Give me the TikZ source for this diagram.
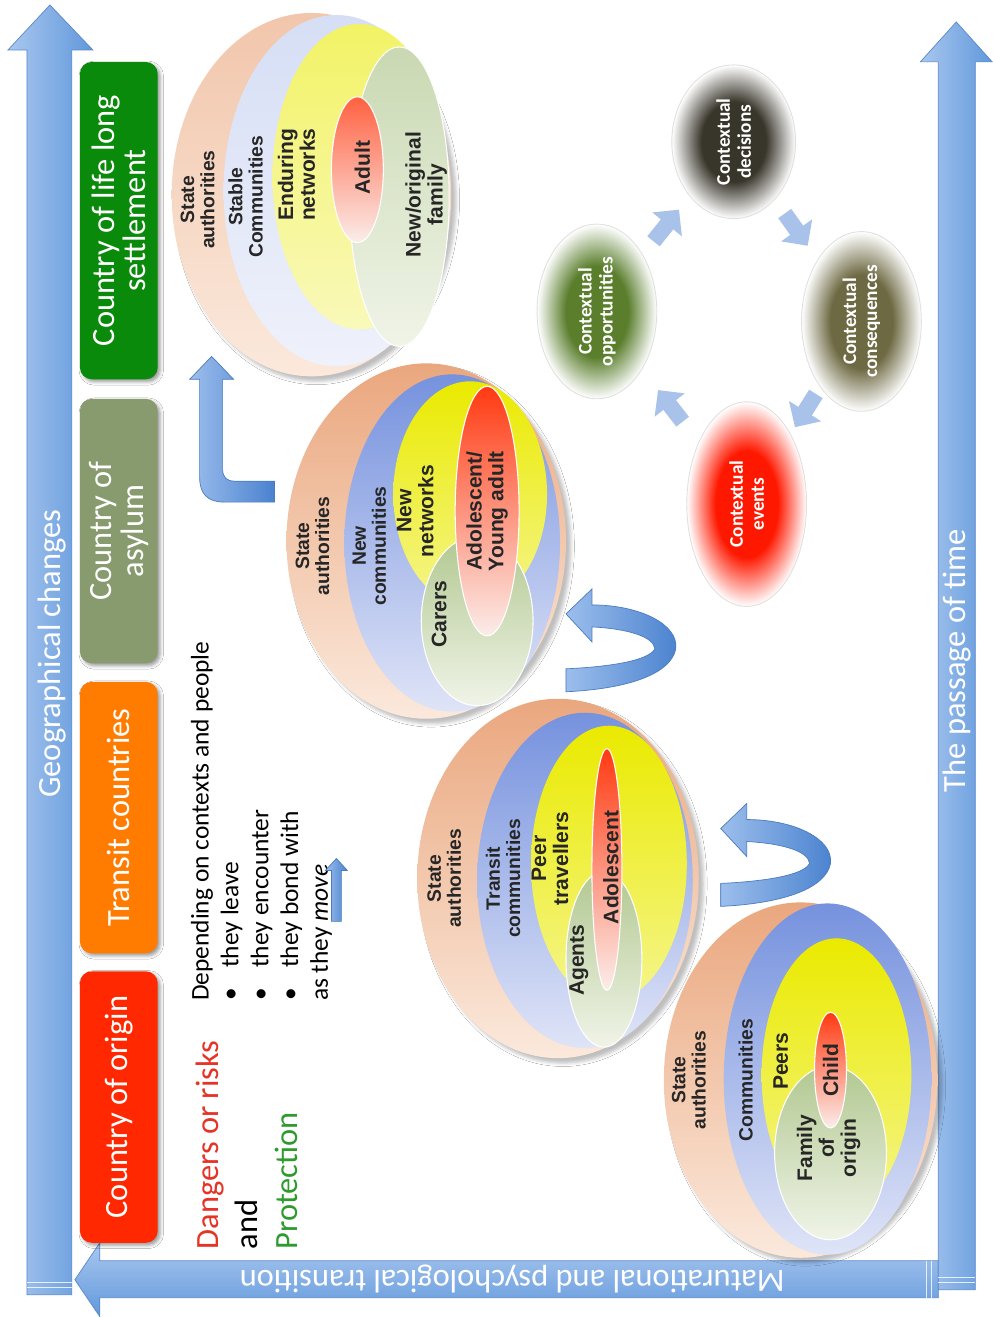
\documentclass[tikz,border=0pt]{standalone}
\usepackage{fontspec}
\setmainfont{Carlito}
\newfontfamily\lsans{Liberation Sans}
\usetikzlibrary{arrows.meta,shapes.geometric,shadows.blur}

\definecolor{arrL}{HTML}{A9C7EF}
\definecolor{arrD}{HTML}{6198DB}
\definecolor{arrB}{HTML}{5A88CC}
\definecolor{uL}{HTML}{9CBEEC}
\definecolor{uD}{HTML}{4A82CF}
\definecolor{uB}{HTML}{4A7CC0}
\definecolor{cycArr}{HTML}{A9C2EA}
\definecolor{cSettle}{HTML}{0A8A0A}
\definecolor{cAsylum}{HTML}{879B6E}
\definecolor{cTransit}{HTML}{FF7C00}
\definecolor{cOrigin}{HTML}{FF2800}
\definecolor{stD}{HTML}{EAA77E}
\definecolor{stL}{HTML}{FBE9DC}
\definecolor{cmD}{HTML}{7692DE}
\definecolor{cmL}{HTML}{DFE4F7}
\definecolor{nwD}{HTML}{EAEA00}
\definecolor{nwL}{HTML}{F5F58C}
\definecolor{fmD}{HTML}{B2C891}
\definecolor{fmL}{HTML}{F0F4E8}
\definecolor{meD}{HTML}{FF3A12}
\definecolor{meL}{HTML}{FBEDEA}
\definecolor{decD}{HTML}{38352A}
\definecolor{oppD}{HTML}{5A7E2C}
\definecolor{conD}{HTML}{6D6942}
\definecolor{evtD}{HTML}{FF1800}
\definecolor{danger}{HTML}{E53325}
\definecolor{protect}{HTML}{2F9B2F}

\pgfdeclareradialshading{fzdec}{\pgfpoint{0bp}{0bp}}{color(0bp)=(decD); color(13bp)=(decD); color(25bp)=(white); color(50bp)=(white)}
\pgfdeclareradialshading{fzopp}{\pgfpoint{0bp}{0bp}}{color(0bp)=(oppD); color(13bp)=(oppD); color(25bp)=(white); color(50bp)=(white)}
\pgfdeclareradialshading{fzcon}{\pgfpoint{0bp}{0bp}}{color(0bp)=(conD); color(13bp)=(conD); color(25bp)=(white); color(50bp)=(white)}
\pgfdeclareradialshading{fzevt}{\pgfpoint{0bp}{0bp}}{color(0bp)=(evtD); color(13bp)=(evtD); color(25bp)=(white); color(50bp)=(white)}

\newcommand\boxfont{\fontsize{18.5}{18}\selectfont}
\newcommand\arrfont{\fontsize{18.5}{20}\selectfont}
\newcommand\labfnt{\lsans\bfseries\fontsize{11}{11.5}\selectfont}
\newcommand\biglab{\lsans\bfseries\fontsize{12}{12.5}\selectfont}
\newcommand\ctxfont{\bfseries\fontsize{11}{12}\selectfont}

\begin{document}
\begin{tikzpicture}[x=0.02cm, y=-0.02cm,
  bigarr/.style={left color=arrL, right color=arrD, draw=arrB, line width=0.4pt},
  arrtext/.style={text=white, font=\arrfont, inner sep=0pt},
  cbox/.style={rectangle, rounded corners=0.24cm, rotate=90, minimum height=1.56cm, text=white, font=\boxfont, align=center, inner sep=2pt,
    blur shadow={shadow blur steps=4, shadow xshift=0.5mm, shadow yshift=-0.5mm}},
  stlay/.style={top color=stD!#1!white, bottom color=stL}, stlay/.default=100,
  cmlay/.style={top color=cmD!#1!white, bottom color=cmL}, cmlay/.default=100,
  nwlay/.style={top color=nwD!#1!white, bottom color=nwL!#1!white}, nwlay/.default=100,
  fmlay/.style={top color=fmD!#1!white, bottom color=fmL, draw=white, line width=0.6pt}, fmlay/.default=100,
  melay/.style={top color=meD!#1!white, bottom color=meL, draw=white, line width=0.6pt}, melay/.default=100,
  rim/.style={blur shadow={shadow xshift=1mm, shadow yshift=-1mm, shadow opacity=25}},
  lab/.style={rotate=90, align=center, font=\labfnt, text=black!85, inner sep=0pt},
  blab/.style={lab, font=\biglab},
  ctx/.style={ellipse, rotate=90, shade, text=white, font=\ctxfont, align=center, inner sep=0pt, draw=black!12, line width=0.5pt},
  cyc/.style={draw=cycArr, line width=0.32cm, -{Triangle[length=0.38cm, width=0.74cm]}},
  uarr/.style={left color=uL, right color=uD, draw=uB, line width=0.4pt},
  uturn/.pic={
    \shade[uarr] (0,78) .. controls (63,75) and (105,60) .. (110,35)
      .. controls (113,10) and (73,-9) .. (26,-9) -- (26,-25) -- (0,0)
      -- (26,28) -- (26,13) .. controls (63,15) and (88,23) .. (89,35)
      .. controls (83,47) and (43,53) .. (0,55) -- cycle;
  }
]
  \fill[white] (0,0) rectangle (984,1317);

  % big arrows
  \shade[bigarr] (27,1297) -- (27,50) -- (8,50) -- (50,5) -- (93,50) -- (72,50) -- (72,1297) -- cycle;
  \shade[bigarr, top color=arrL, bottom color=arrD] (940,1263) -- (100,1263) -- (100,1245) -- (75,1282) -- (100,1319) -- (100,1300) -- (940,1300) -- cycle;
  \shade[bigarr] (940,1292) -- (940,62) -- (922,62) -- (958,22) -- (994,62) -- (977,62) -- (977,1292) -- cycle;
  \draw[white, line width=0.6pt, opacity=0.8] (27,1285) -- (72,1285) (27,1290) -- (72,1290)
    (940,1280) -- (977,1280) (940,1285) -- (977,1285) (928,1263) -- (928,1300) (933,1263) -- (933,1300);
  \node[arrtext, rotate=90] (geo) at (52,655) {Geographical changes};
  \node[arrtext, rotate=90] (time) at (959,662) {The passage of time};
  \node[arrtext, rotate=180] (matur) at (513,1281) {Maturational and psychological transition};

  % countries
  \node[cbox, fill=cSettle, minimum width=6.36cm] (settlebox) at (119,221) {Country of life long\\settlement};
  \node[cbox, fill=cAsylum, minimum width=5.3cm] (asylumbox) at (119,532) {Country of\\asylum};
  \node[cbox, fill=cTransit, minimum width=5.44cm] (transitbox) at (119,819) {Transit countries};
  \node[cbox, fill=cOrigin, minimum width=5.44cm] (originbox) at (119,1109) {Country of origin};

  % side texts
  \node[anchor=north west, rotate=90, align=left, inner sep=0pt, font=\fontsize{18.5}{22.5}\selectfont] (risks) at (196,1252)
    {\textcolor{danger}{Dangers or risks}\\and\\\textcolor{protect}{Protection}};
  \node[anchor=north west, rotate=90, align=left, inner sep=0pt, font=\fontsize{14.5}{17}\selectfont] (depend) at (191,1003)
    {Depending on contexts and people\\\makebox[19pt][l]{\textbullet}they leave\\\makebox[19pt][l]{\textbullet}they encounter\\\makebox[19pt][l]{\textbullet}they bond with\\as they \emph{move}};
  \shade[uarr] (332,923) -- (332,872) -- (326,872) -- (337,860) -- (348,872) -- (342,872) -- (342,923) -- cycle;

  % child
  \shade[stlay, rim] (802,1082) ellipse [x radius=137, y radius=178];
  \shade[cmlay] (829,1081) ellipse [x radius=104, y radius=176];
  \shade[nwlay] (838,1077) ellipse [x radius=75, y radius=137];
  \shade[fmlay] (832,1155) ellipse [x radius=56, y radius=87];
  \shade[melay] (832,1072) ellipse [x radius=16, y radius=58];
  \node[lab] (stateA) at (690,1082) {State\\authorities};
  \node[lab] (commA) at (747,1082) {Communities};
  \node[blab] (peers) at (782,1063) {Peers};
  \node[blab] (child) at (832,1072) {Child};
  \node[blab] (family) at (830,1150) {Family\\of\\origin};

  % adolescent
  \shade[stlay, rim] (559,880) ellipse [x radius=141, y radius=180];
  \shade[cmlay] (586,882) ellipse [x radius=108, y radius=168];
  \shade[nwlay] (610,865) ellipse [x radius=78, y radius=138];
  \shade[fmlay] (605,961) ellipse [x radius=38, y radius=88];
  \shade[melay] (608,871) ellipse [x radius=15, y radius=121];
  \node[lab] (stateB) at (445,880) {State\\authorities};
  \node[lab] (commB) at (504,880) {Transit\\communities};
  \node[blab] (peerB) at (551,860) {Peer\\travellers};
  \node[blab] (agents) at (580,962) {Agents};
  \node[blab] (adol) at (612,869) {Adolescent};

  % young adult
  \shade[stlay, rim] (427,542) ellipse [x radius=140, y radius=178];
  \shade[cmlay] (453,544) ellipse [x radius=108, y radius=169];
  \shade[nwlay] (471,495) ellipse [x radius=77, y radius=113];
  \shade[fmlay] (478,622) ellipse [x radius=56, y radius=85];
  \shade[melay] (488,512) ellipse [x radius=32, y radius=125];
  \node[lab] (stateC) at (313,547) {State\\authorities};
  \node[lab] (commC) at (370,547) {New\\communities};
  \node[blab] (netC) at (416,512) {New\\networks};
  \node[blab] (carers) at (440,615) {Carers};
  \node[blab] (young) at (488,512) {Adolescent/\\Young adult};

  % adult
  \shade[stlay=65, rim] (312,195) ellipse [x radius=140, y radius=182];
  \shade[cmlay=30, bottom color=cmL!50!white] (337,191) ellipse [x radius=113, y radius=176];
  \shade[nwlay=60] (360,177) ellipse [x radius=87, y radius=153];
  \shade[fmlay=70] (400,197) ellipse [x radius=50, y radius=150];
  \shade[melay=80] (358,170) ellipse [x radius=26, y radius=73];
  \node[lab] (stateD) at (198,200) {State\\authorities};
  \node[lab] (commD) at (246,197) {Stable\\Communities};
  \node[blab] (netD) at (297,175) {Enduring\\networks};
  \node[blab] (adult) at (363,168) {Adult};
  \node[blab] (newfam) at (427,195) {New/original\\family};

  % moves
  \pic at (722,830) {uturn};
  \pic at (567,615) {uturn};
  \shade[uarr] (275,503) -- (225,503) .. controls (208,503) and (200,495) .. (200,478) -- (200,380) -- (190,380)
    -- (212,357) -- (234,380) -- (223,380) -- (223,470) .. controls (223,478) and (227,482) .. (235,482) -- (275,482) -- cycle;

  % context cycle
  \node[ctx, shading=fzdec, minimum width=3.08cm, minimum height=2.48cm] (decide) at (735,142) {Contextual\\decisions};
  \node[ctx, shading=fzopp, minimum width=3.5cm, minimum height=2.4cm] (opport) at (598,312) {Contextual\\opportunities};
  \node[ctx, shading=fzcon, minimum width=3.6cm, minimum height=2.4cm] (conseq) at (863,322) {Contextual\\consequences};
  \node[ctx, shading=fzevt, minimum width=4.1cm, minimum height=2.4cm] (events) at (748,505) {Contextual\\events};

  \draw[cyc, shorten <=0.52cm, shorten >=0.52cm] (events) -- (opport);
  \draw[cyc, shorten <=0.34cm, shorten >=0.34cm] (opport) -- (decide);
  \draw[cyc, shorten <=0.34cm, shorten >=0.34cm] (decide) -- (conseq);
  \draw[cyc, shorten <=0.16cm, shorten >=0.16cm] (conseq) -- (events);
\end{tikzpicture}
\end{document}
